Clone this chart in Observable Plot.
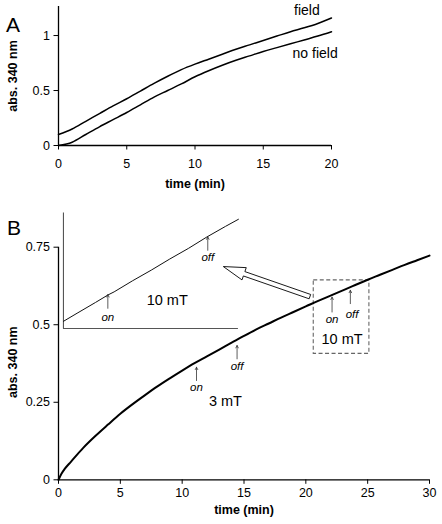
<!DOCTYPE html>
<html>
<head>
<meta charset="utf-8">
<script src="https://cdn.jsdelivr.net/npm/d3@7"></script>
<script src="https://cdn.jsdelivr.net/npm/@observablehq/plot@0.6"></script>
<style>
  html, body { margin: 0; padding: 0; background: #fff; }
  #chart svg { display: block; }
</style>
</head>
<body>
<div id="chart"></div>
<script>
// ---------- Panel A data ----------
const timeA = [0,1,2,3,4,5,6,7,8,9,10,11,12,13,14,15,16,17,18,19,20];
const fieldA = [0.10,0.15,0.22,0.29,0.36,0.425,0.495,0.565,0.63,0.69,0.74,0.785,0.83,0.875,0.915,0.955,0.995,1.035,1.07,1.11,1.16];
const noFieldA = [0.0,0.03,0.10,0.17,0.235,0.30,0.37,0.44,0.50,0.56,0.625,0.68,0.73,0.775,0.815,0.855,0.89,0.925,0.96,0.995,1.035];
const xTicksA = [0,5,10,15,20];
const yTicksA = [0,0.5,1];
const labelsA = ["field","no field"];
const labelTA = [18.2,18.8];
const labelYA = [1.227,0.84];

// ---------- Panel B data ----------
const timeB = [0,0.25,0.5,1,2,3,4,5,6,7,8,9,10,11,12,13,14,15,16,17,18,19,20,21,22,23,24,25,26,27,28,29,30];
const absB = [0,0.02,0.035,0.058,0.103,0.142,0.178,0.213,0.244,0.273,0.301,0.327,0.352,0.376,0.398,0.42,0.442,0.464,0.485,0.504,0.523,0.541,0.559,0.577,0.594,0.611,0.628,0.645,0.661,0.677,0.693,0.708,0.723];
const xTicksB = [0,5,10,15,20,25,30];
const yTicksB = [0,0.25,0.5,0.75];

// inset (magnified 10 mT trace), placed in panel B's coordinates
const insetTime = [0.4,1.5,3,4,4.5,6,7.5,9,10.5,12,13.5,14.55];
const insetAbs  = [0.511,0.537,0.572,0.596,0.606,0.642,0.676,0.712,0.746,0.783,0.817,0.840];
const insetAxisT = [0.4, 14.55];
const insetAxisY = [0.488, 0.86];

// small "on"/"off" arrows: time, tail value, tip value
const arrowLabel = ["on","off","on","off","on","off"];
const arrowT     = [11.16,14.44,3.99,12.07,22.12,23.6];
const arrowTail  = [0.320,0.390,0.553,0.740,0.541,0.568];
const arrowTip   = [0.363,0.433,0.597,0.783,0.589,0.611];
const arrowTextT = [11.16,14.44,3.99,12.07,22.12,23.74];
const arrowTextY = [0.297,0.365,0.525,0.716,0.517,0.533];

const fieldLabels = ["3 mT","10 mT","10 mT"];
const fieldLabelT = [13.5,8.79,22.93];
const fieldLabelY = [0.2526,0.578,0.452];

// dashed zoom box
const boxT = [20.64,25.14];
const boxY = [0.406,0.643];
// big hollow arrow: from tail to tip
const bigArrowT = [20.37,13.37];
const bigArrowY = [0.589,0.686];

const font = "'Liberation Sans', Arial, Helvetica, sans-serif";

const ptsA = timeA.map((t,i)=>({t, v: fieldA[i], s: "field"}))
  .concat(timeA.map((t,i)=>({t, v: noFieldA[i], s: "no field"})));
const ptsB = timeB.map((t,i)=>({t, v: absB[i]}));
const ptsInset = insetTime.map((t,i)=>({t, v: insetAbs[i]}));
const arrows = arrowLabel.map((l,i)=>({l, t: arrowT[i], a: arrowTail[i], b: arrowTip[i], tt: arrowTextT[i], ty: arrowTextY[i]}));
const flabels = fieldLabels.map((l,i)=>({l, t: fieldLabelT[i], v: fieldLabelY[i]}));

const plotA = Plot.plot({
  width: 442, height: 200,
  marginLeft: 58, marginRight: 111, marginTop: 6, marginBottom: 55,
  style: {fontFamily: font, fontSize: "12.5px", color: "#000", background: "#fff"},
  x: {domain: [0,20], ticks: xTicksA, tickSize: 4.5, tickPadding: 9, label: null},
  y: {domain: [0,1.264], ticks: yTicksA, tickSize: 4.5, tickPadding: 4, label: null, tickFormat: d => String(d)},
  marks: [
    Plot.ruleX([0], {stroke: "#000", strokeWidth: 1.3}),
    Plot.ruleY([0], {stroke: "#000", strokeWidth: 1.3}),
    Plot.line(ptsA, {x: "t", y: "v", z: "s", stroke: "#000", strokeWidth: 1.5, curve: "monotone-x"}),
    Plot.text(labelsA.map((l,i)=>({l, t: labelTA[i], v: labelYA[i]})), {x: "t", y: "v", text: "l", fontSize: 14, fill: "#000"}),
    Plot.text(["abs. 340 nm"], {frameAnchor: "left", textAnchor: "middle", rotate: -90, dx: -46, fontWeight: "bold", fontSize: 12.5, fill: "#000"}),
    Plot.text(["time (min)"], {frameAnchor: "bottom", textAnchor: "middle", dy: 42.7, fontWeight: "bold", fontSize: 12.5, fill: "#000"}),
    Plot.text(["A"], {frameAnchor: "top-left", dx: -45.5, dy: 10.7, textAnchor: "middle", fontSize: 21, fill: "#000"})
  ]
});

function hollowArrow(index, scales) {
  const sx = scales.x, sy = scales.y;
  const Q = [sx(bigArrowT[0]), sy(bigArrowY[0])];
  const P = [sx(bigArrowT[1]), sy(bigArrowY[1])];
  const dx = P[0]-Q[0], dy = P[1]-Q[1], L = Math.hypot(dx, dy);
  const u = [dx/L, dy/L], n = [-u[1], u[0]];
  const w = 2.3, hw = 6.5, hl = 22;
  const B = [P[0]-u[0]*hl, P[1]-u[1]*hl];
  const pts = [
    [Q[0]+n[0]*w, Q[1]+n[1]*w],
    [B[0]+n[0]*w, B[1]+n[1]*w],
    [B[0]+n[0]*hw, B[1]+n[1]*hw],
    P,
    [B[0]-n[0]*hw, B[1]-n[1]*hw],
    [B[0]-n[0]*w, B[1]-n[1]*w],
    [Q[0]-n[0]*w, Q[1]-n[1]*w]
  ];
  const g = d3.create("svg:g");
  g.append("path")
    .attr("d", "M" + pts.map(p => p[0].toFixed(2)+","+p[1].toFixed(2)).join("L") + "Z")
    .attr("fill", "#fff").attr("stroke", "#000").attr("stroke-width", 0.9);
  return g.node();
}

const plotB = Plot.plot({
  width: 442, height: 324,
  marginLeft: 58, marginRight: 13, marginTop: 46.7, marginBottom: 44.7,
  style: {fontFamily: font, fontSize: "12.5px", color: "#000", background: "#fff"},
  x: {domain: [0,30], ticks: xTicksB, tickSize: 4.5, tickPadding: 4, label: null},
  y: {domain: [0,0.75], ticks: yTicksB, tickSize: 4.5, tickPadding: 4, label: null, tickFormat: d => String(d)},
  marks: [
    Plot.ruleX([0], {stroke: "#000", strokeWidth: 1.3}),
    Plot.ruleY([0], {stroke: "#000", strokeWidth: 1.3}),
    // inset axes
    Plot.ruleX([insetAxisT[0]], {y1: insetAxisY[0], y2: insetAxisY[1], stroke: "#555", strokeWidth: 1.1}),
    Plot.ruleY([insetAxisY[0]], {x1: insetAxisT[0], x2: insetAxisT[1], stroke: "#555", strokeWidth: 1.1}),
    Plot.line(ptsInset, {x: "t", y: "v", stroke: "#111", strokeWidth: 1}),
    // dashed box
    Plot.rect([0], {x1: boxT[0], x2: boxT[1], y1: boxY[0], y2: boxY[1], fill: "none", stroke: "#666", strokeWidth: 1.1, strokeDasharray: "4,2.5"}),
    // main curve
    Plot.line(ptsB, {x: "t", y: "v", stroke: "#000", strokeWidth: 2, curve: "monotone-x"}),
    // on/off arrows
    Plot.arrow(arrows, {x1: "t", y1: "a", x2: "t", y2: "b", stroke: "#333", strokeWidth: 0.8, headLength: 5, headAngle: 55}),
    Plot.text(arrows, {x: "tt", y: "ty", text: "l", fontStyle: "italic", fontSize: 11.5, fill: "#000"}),
    Plot.text(flabels, {x: "t", y: "v", text: "l", fontSize: 14.5, fill: "#000"}),
    hollowArrow,
    Plot.text(["abs. 340 nm"], {frameAnchor: "left", textAnchor: "middle", rotate: -90, dx: -46, dy: -1.3, fontWeight: "bold", fontSize: 12.5, fill: "#000"}),
    Plot.text(["time (min)"], {frameAnchor: "bottom", textAnchor: "middle", dy: 34, fontWeight: "bold", fontSize: 12.5, fill: "#000"}),
    Plot.text(["B"], {frameAnchor: "top-left", dx: -44.5, dy: -26.7, textAnchor: "middle", fontSize: 21, fill: "#000"})
  ]
});

document.getElementById("chart").append(plotA, plotB);
</script>
</body>
</html>
